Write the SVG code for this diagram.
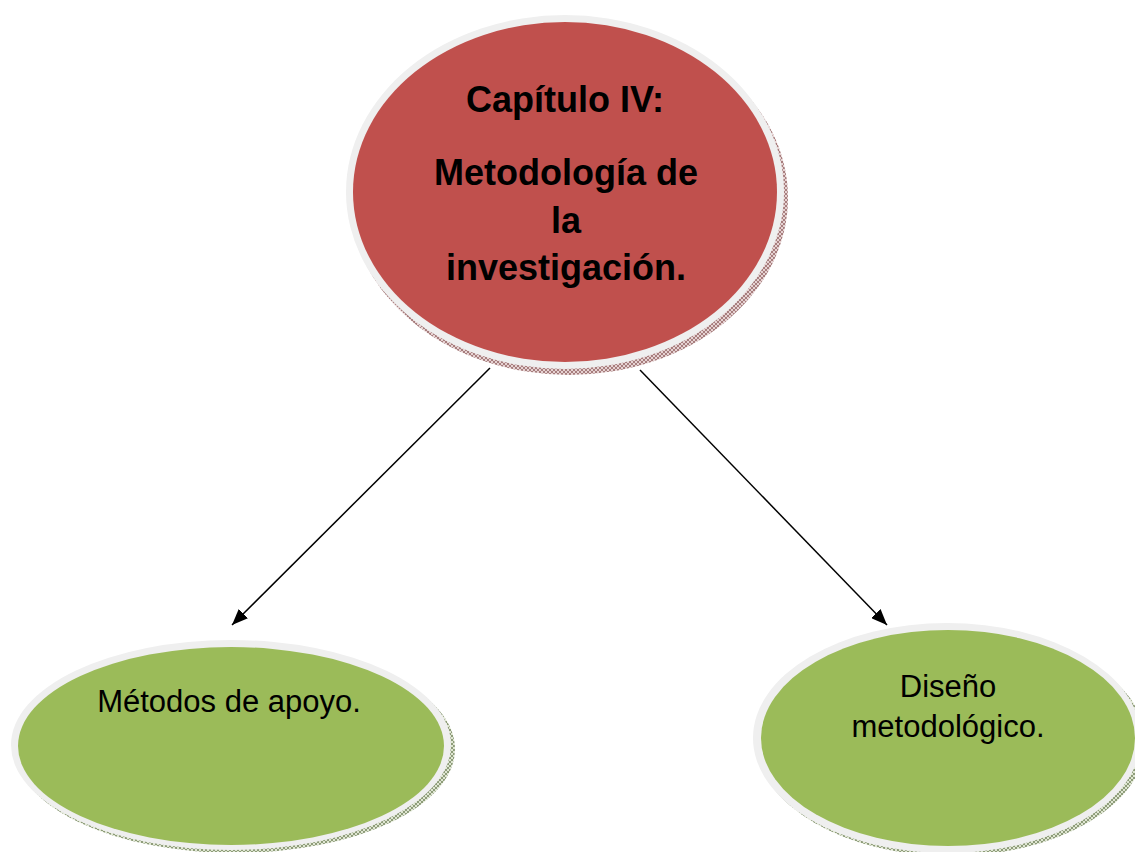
<svg xmlns="http://www.w3.org/2000/svg" width="1135" height="852" viewBox="0 0 1135 852">
<style>
.rim{fill:#efefef}
.red{fill:#c0504d}
.green{fill:#9bbb59}
.tb{font-family:"Liberation Sans",Arial,sans-serif;font-weight:bold;font-size:36px;fill:#000;text-anchor:middle}
.tr{font-family:"Liberation Sans",Arial,sans-serif;font-size:31px;fill:#000;text-anchor:middle}
.conn{stroke:#000;stroke-width:1.5;fill:none}
</style>
<defs>
<pattern id="hr" width="4" height="4" patternUnits="userSpaceOnUse">
<rect width="4" height="4" fill="#e6d2d2"/>
<path d="M0 4L4 0M0 0L4 4" stroke="#8c5a5a" stroke-width="0.7"/>
</pattern>
<pattern id="hg" width="4" height="4" patternUnits="userSpaceOnUse">
<rect width="4" height="4" fill="#dfe6d2"/>
<path d="M0 4L4 0M0 0L4 4" stroke="#6b7d55" stroke-width="0.7"/>
</pattern>
<marker id="arr" markerWidth="16" markerHeight="13" refX="16" refY="6.5" orient="auto" markerUnits="userSpaceOnUse" viewBox="0 0 16 13">
<path d="M0 0L16 6.5L0 13Z" fill="#000"/>
</marker>
</defs>
<g id="connectors">
<line class="conn" x1="490" y1="368" x2="232" y2="625" marker-end="url(#arr)"/>
<line class="conn" x1="640" y1="370" x2="887" y2="625" marker-end="url(#arr)"/>
</g>
<g id="node-capitulo">
<ellipse cx="569" cy="198" rx="219" ry="177" fill="url(#hr)"/>
<ellipse class="rim" cx="565" cy="192" rx="219" ry="177"/>
<ellipse class="red" cx="565" cy="192" rx="212" ry="170"/>
<text class="tb" x="565" y="112">Capítulo IV:</text>
<text class="tb" x="566" y="185">Metodología de</text>
<text class="tb" x="566" y="233">la</text>
<text class="tb" x="566" y="280">investigación.</text>
</g>
<g id="node-metodos">
<ellipse cx="235" cy="749" rx="220" ry="104" fill="url(#hg)"/>
<ellipse class="rim" cx="231" cy="745" rx="220" ry="105"/>
<ellipse class="green" cx="231" cy="746" rx="213" ry="99"/>
<text class="tr" x="229" y="712">Métodos de apoyo.</text>
</g>
<g id="node-diseno">
<ellipse cx="951" cy="742" rx="194" ry="114" fill="url(#hg)"/>
<ellipse class="rim" cx="947" cy="738" rx="194" ry="115"/>
<ellipse class="green" cx="948" cy="738" rx="187" ry="108"/>
<text class="tr" x="948" y="697">Diseño</text>
<text class="tr" x="948" y="737">metodológico.</text>
</g>
</svg>
